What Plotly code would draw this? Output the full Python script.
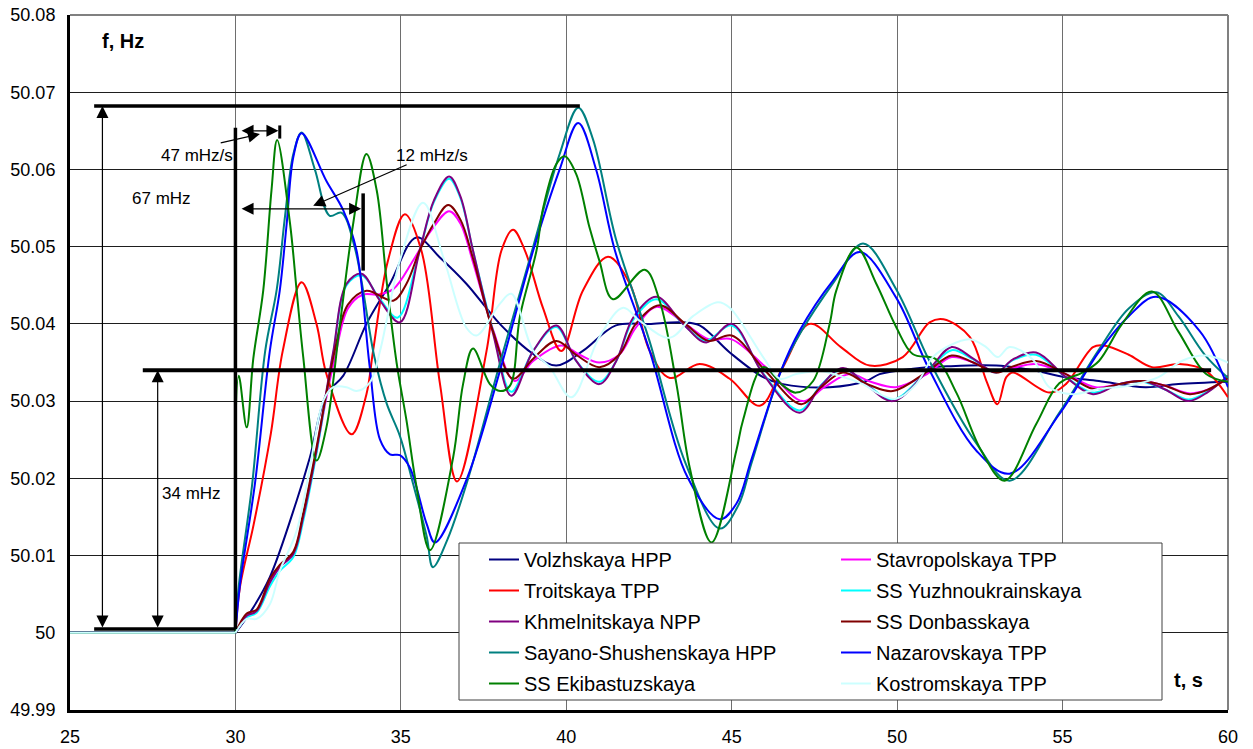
import plotly.graph_objects as go

FONT = "Liberation Sans, Arial, sans-serif"

# ---- frequency traces: (time, s ; frequency, Hz) ----
volzhskaya = [(25, 50.0), (30, 50.0), (30.5, 50.003), (31.04, 50.0072), (31.85, 50.0171), (32.25, 50.0227),
              (32.75, 50.0309), (33.26, 50.0333), (33.96, 50.0400), (34.67, 50.0452), (35.47, 50.0512),
              (36.18, 50.0486), (36.98, 50.0452), (37.99, 50.0400), (39.0, 50.0361), (39.7, 50.0346),
              (40.5, 50.0365), (41.5, 50.0398), (42.5, 50.0400), (43.5, 50.0402), (44.03, 50.0398),
              (44.94, 50.0363), (45.95, 50.0331), (46.55, 50.0322), (47.96, 50.0318), (49.07, 50.0326),
              (49.47, 50.0335), (50.48, 50.0342), (51.5, 50.0345), (53.0, 50.0346), (54.1, 50.0340),
              (55.1, 50.0331), (56.1, 50.0326), (57.5, 50.0318), (58.5, 50.0322), (60, 50.0325)]

stavropolskaya = [(25, 50.0), (30, 50.0), (30.34, 50.002), (30.64, 50.0028), (31.04, 50.0065), (31.34, 50.0085),
                  (31.75, 50.0103), (32.05, 50.015), (32.45, 50.0235), (32.75, 50.0305), (33.0, 50.0355),
                  (33.4, 50.042), (33.86, 50.0438), (34.3, 50.0438), (34.77, 50.0445), (35.37, 50.0482),
                  (35.9, 50.052), (36.46, 50.0546), (36.8, 50.053), (37.18, 50.048), (37.79, 50.0392),
                  (38.44, 50.0326), (39.0, 50.0352), (39.85, 50.0372), (40.4, 50.036), (41.0, 50.035),
                  (41.6, 50.036), (42.1, 50.0395), (42.72, 50.0422), (43.6, 50.040), (44.3, 50.038),
                  (45.0, 50.038), (46.0, 50.0345), (47.15, 50.030), (47.8, 50.0318), (48.56, 50.0335),
                  (49.2, 50.0325), (49.97, 50.0318), (50.9, 50.0335), (51.65, 50.0357), (52.3, 50.035),
                  (53.0, 50.0338), (53.5, 50.0343), (54.2, 50.0348), (55.1, 50.0335), (56.0, 50.0318),
                  (56.7, 50.0322), (57.4, 50.0326), (58.1, 50.032), (58.84, 50.031), (59.4, 50.0315), (60, 50.033)]

troitskaya = [(25, 50.0), (30, 50.0), (30.14, 50.006), (30.55, 50.014), (31.07, 50.0258), (31.43, 50.0365),
              (32.0, 50.0454), (32.45, 50.040), (32.75, 50.0335), (33.51, 50.0257), (33.96, 50.0309),
              (34.16, 50.0365), (34.6, 50.048), (35.12, 50.0542), (35.62, 50.0495), (36.18, 50.0323),
              (36.7, 50.0196), (37.59, 50.0365), (38.04, 50.0495), (38.39, 50.0522), (38.75, 50.0495),
              (39.3, 50.042), (39.85, 50.0365), (40.5, 50.0443), (41.26, 50.0487), (41.92, 50.0452),
              (42.52, 50.0365), (43.13, 50.033), (44.03, 50.0348), (44.94, 50.0329), (45.85, 50.0294),
              (46.55, 50.0344), (47.36, 50.040), (48.3, 50.037), (49.17, 50.0346), (50.17, 50.0357),
              (50.98, 50.0402), (51.4, 50.0406), (52.2, 50.0383), (52.7, 50.0326), (53.03, 50.0296),
              (53.3, 50.0331), (53.5, 50.0337), (54.6, 50.0311), (55.1, 50.0322), (55.92, 50.037),
              (56.25, 50.0372), (57.0, 50.036), (57.7, 50.0344), (58.53, 50.0348), (59.3, 50.034), (60, 50.0305)]

yuzhnoukrainskaya = [(25, 50.0), (30, 50.0), (30.34, 50.002), (30.64, 50.0026), (31.04, 50.006), (31.34, 50.008),
                     (31.75, 50.0098), (32.05, 50.0145), (32.45, 50.0232), (32.75, 50.031), (32.96, 50.0362),
                     (33.36, 50.045), (33.81, 50.0463), (34.37, 50.0432), (34.9, 50.0408), (35.57, 50.0495),
                     (36.0, 50.0558), (36.46, 50.0588), (36.8, 50.0563), (37.18, 50.0495), (37.79, 50.039),
                     (38.34, 50.0312), (39.0, 50.0365), (39.7, 50.0396), (40.3, 50.0352), (41.0, 50.0325),
                     (41.51, 50.0352), (42.02, 50.0405), (42.72, 50.0432), (43.53, 50.040), (44.2, 50.0378),
                     (45.0, 50.0398), (45.95, 50.0336), (47.05, 50.0288), (47.7, 50.0321), (48.36, 50.0342),
                     (49.1, 50.0321), (49.87, 50.0302), (50.98, 50.0342), (51.65, 50.0366), (52.3, 50.0354),
                     (52.99, 50.0337), (53.5, 50.0353), (54.2, 50.036), (55.1, 50.0331), (55.92, 50.0311),
                     (56.7, 50.0322), (57.4, 50.0325), (58.1, 50.0315), (58.8, 50.0302), (59.4, 50.0313), (60, 50.0332)]

khmelnitskaya = [(25, 50.0), (30, 50.0), (30.34, 50.0022), (30.64, 50.0028), (31.04, 50.0065), (31.34, 50.0085),
                 (31.75, 50.0102), (32.05, 50.015), (32.45, 50.0236), (32.75, 50.0313), (32.96, 50.0365),
                 (33.36, 50.0452), (33.81, 50.0465), (34.37, 50.043), (34.97, 50.0402), (35.57, 50.0495),
                 (36.0, 50.056), (36.46, 50.0591), (36.8, 50.0565), (37.18, 50.0495), (37.79, 50.0387),
                 (38.34, 50.0307), (39.0, 50.0365), (39.7, 50.0398), (40.3, 50.0352), (41.0, 50.0322),
                 (41.51, 50.0352), (42.02, 50.0408), (42.72, 50.0435), (43.53, 50.040), (44.23, 50.0376),
                 (45.0, 50.040), (45.95, 50.0335), (47.05, 50.0285), (47.7, 50.032), (48.36, 50.0343),
                 (49.1, 50.032), (49.87, 50.030), (50.98, 50.0342), (51.65, 50.037), (52.3, 50.0355),
                 (52.99, 50.0337), (53.5, 50.0354), (54.2, 50.0363), (55.1, 50.0331), (55.92, 50.0309),
                 (56.7, 50.0322), (57.4, 50.0326), (58.1, 50.0315), (58.8, 50.030), (59.4, 50.0312), (60, 50.0333)]

donbasskaya = [(25, 50.0), (30, 50.0), (30.34, 50.0025), (30.64, 50.003), (31.04, 50.007), (31.34, 50.0088),
               (31.75, 50.0105), (32.05, 50.0155), (32.45, 50.024), (32.75, 50.031), (33.0, 50.0365),
               (33.4, 50.0425), (33.96, 50.0443), (34.77, 50.043), (35.17, 50.0452), (35.57, 50.0495),
               (36.0, 50.053), (36.43, 50.0554), (36.8, 50.0535), (37.18, 50.0485), (37.79, 50.039),
               (38.39, 50.0329), (39.0, 50.0355), (39.7, 50.0378), (40.3, 50.036), (41.0, 50.0344),
               (41.6, 50.036), (42.1, 50.040), (42.82, 50.0424), (43.6, 50.040), (44.3, 50.0378),
               (45.0, 50.0385), (46.0, 50.034), (47.1, 50.0296), (47.7, 50.0318), (48.36, 50.0337),
               (49.1, 50.0322), (49.87, 50.0313), (50.9, 50.0338), (51.65, 50.0359), (52.3, 50.035),
               (53.0, 50.0337), (53.5, 50.0345), (54.2, 50.0352), (55.1, 50.0335), (55.92, 50.0316),
               (56.7, 50.0322), (57.4, 50.0326), (58.1, 50.032), (58.84, 50.0309), (59.4, 50.0315), (60, 50.033)]

sayano_shushenskaya = [(25, 50.0), (30, 50.0), (30.1, 50.006), (30.5, 50.019), (30.9, 50.0365), (31.25, 50.0445),
                       (31.5, 50.054), (31.75, 50.062), (32.0, 50.0648), (32.4, 50.060), (32.85, 50.054),
                       (33.2, 50.0544), (33.6, 50.050), (34.2, 50.0357), (34.57, 50.0297), (34.97, 50.0255),
                       (35.37, 50.0193), (35.78, 50.0125), (35.97, 50.0085), (36.4, 50.012), (37.0, 50.0195),
                       (38.0, 50.035), (39.0, 50.050), (39.8, 50.062), (40.36, 50.068), (40.8, 50.064),
                       (41.5, 50.051), (42.5, 50.038), (43.6, 50.022), (44.64, 50.0135), (45.2, 50.0165),
                       (45.6, 50.022), (46.5, 50.034), (47.1, 50.039), (48.1, 50.0455), (48.97, 50.0504),
                       (49.97, 50.0445), (51.0, 50.035), (52.4, 50.0245), (53.4, 50.0197), (54.9, 50.0285),
                       (56.12, 50.0368), (57.0, 50.042), (57.83, 50.0441), (58.5, 50.041), (59.3, 50.036), (60, 50.033)]

nazarovskaya = [(25, 50.0), (30, 50.0), (30.14, 50.0063), (30.59, 50.0193), (31.04, 50.0365), (31.34, 50.0443),
                (31.55, 50.053), (31.75, 50.0616), (32.0, 50.0647), (32.75, 50.0585), (33.26, 50.0547),
                (33.66, 50.0495), (34.06, 50.0344), (34.37, 50.025), (34.67, 50.0231), (34.97, 50.023),
                (35.27, 50.0214), (35.78, 50.0141), (36.03, 50.0117), (37.0, 50.020), (38.0, 50.034),
                (39.0, 50.0495), (39.8, 50.060), (40.36, 50.066), (40.9, 50.060), (41.47, 50.0495),
                (42.52, 50.0365), (43.68, 50.020), (44.64, 50.0147), (45.14, 50.0167), (45.6, 50.0225),
                (46.45, 50.0335), (47.05, 50.0391), (48.06, 50.0456), (48.87, 50.0493), (49.97, 50.0434),
                (50.98, 50.034), (52.39, 50.0236), (53.4, 50.0206), (54.9, 50.0283), (56.12, 50.0365),
                (57.0, 50.041), (57.83, 50.0435), (59.14, 50.0391), (60, 50.0318)]

ekibastuzskaya = [(25, 50.0), (30, 50.0), (30.1, 50.0333), (30.34, 50.0266), (30.54, 50.0355), (30.84, 50.0443),
                  (31.09, 50.0573), (31.26, 50.0638), (31.65, 50.053), (31.85, 50.0443), (32.05, 50.0357),
                  (32.45, 50.0223), (32.75, 50.0266), (33.16, 50.040), (33.56, 50.053), (33.96, 50.062),
                  (34.27, 50.0573), (34.57, 50.0455), (34.87, 50.035), (35.17, 50.0275), (35.47, 50.019),
                  (35.88, 50.0107), (36.58, 50.0227), (36.88, 50.0322), (37.18, 50.0368), (37.69, 50.0322),
                  (38.0, 50.0313), (38.3, 50.032), (38.6, 50.041), (39.1, 50.0495), (39.3, 50.055),
                  (39.7, 50.0607), (39.95, 50.0617), (40.3, 50.0594), (40.7, 50.0525), (41.0, 50.0482),
                  (41.41, 50.0432), (42.37, 50.047), (42.82, 50.043), (43.33, 50.0322), (43.73, 50.0214),
                  (44.39, 50.0117), (45.14, 50.0236), (45.34, 50.0275), (45.95, 50.0344), (46.55, 50.032),
                  (46.95, 50.0311), (47.46, 50.0326), (47.96, 50.040), (48.16, 50.0443), (48.77, 50.0499),
                  (49.37, 50.0452), (49.97, 50.0396), (50.47, 50.0361), (51.18, 50.0354), (51.8, 50.031),
                  (52.54, 50.0236), (53.25, 50.0197), (54.2, 50.027), (54.9, 50.0323), (55.6, 50.0337),
                  (56.1, 50.0352), (56.8, 50.040), (57.7, 50.0442), (58.5, 50.039), (59.34, 50.0335), (60, 50.0325)]

kostromskaya = [(25, 50.0), (30, 50.0), (30.34, 50.0018), (30.64, 50.0018), (31.04, 50.0037), (31.34, 50.008),
                (31.85, 50.0132), (32.25, 50.0214), (32.66, 50.0301), (32.96, 50.0318), (33.36, 50.0318),
                (33.66, 50.0313), (34.06, 50.0324), (34.37, 50.0365), (34.57, 50.0404), (34.97, 50.0482),
                (35.67, 50.0557), (36.3, 50.0484), (36.98, 50.0395), (37.29, 50.0385), (37.99, 50.0426),
                (38.34, 50.0439), (39.0, 50.0365), (39.5, 50.0344), (40.15, 50.0305), (41.0, 50.0383),
                (41.72, 50.0421), (42.22, 50.0404), (43.13, 50.0382), (43.83, 50.041), (44.58, 50.0428),
                (44.94, 50.0421), (45.95, 50.0357), (46.45, 50.0329), (46.95, 50.0335), (47.66, 50.0339),
                (48.3, 50.0332), (48.97, 50.0322), (49.47, 50.0309), (49.97, 50.0303), (50.58, 50.0322),
                (51.08, 50.0357), (51.59, 50.0372), (52.19, 50.038), (52.69, 50.037), (53.04, 50.0357),
                (53.4, 50.037), (54.1, 50.0354), (54.6, 50.0318), (55.31, 50.0309), (56.12, 50.0316),
                (57.0, 50.032), (57.9, 50.0331), (58.6, 50.0352), (59.34, 50.0359), (60, 50.035)]

# ---- axis ticks ----
x_ticks = [25, 30, 35, 40, 45, 50, 55, 60]
x_tick_text = ["25", "30", "35", "40", "45", "50", "55", "60"]
y_ticks = [49.99, 50.00, 50.01, 50.02, 50.03, 50.04, 50.05, 50.06, 50.07, 50.08]
y_tick_text = ["49.99", "50", "50.01", "50.02", "50.03", "50.04", "50.05", "50.06", "50.07", "50.08"]

# ---- characteristic levels of the disturbance ----
t_event = 30.0
f_base = 50.0005
f_max = 50.0682
f_settled = 50.034

series = [
    ("Volzhskaya HPP", volzhskaya, "#000080", "legend"),
    ("Stavropolskaya TPP", stavropolskaya, "#FF00FF", "legend2"),
    ("Troitskaya TPP", troitskaya, "#FF0000", "legend"),
    ("SS Yuzhnoukrainskaya", yuzhnoukrainskaya, "#00FFFF", "legend2"),
    ("Khmelnitskaya NPP", khmelnitskaya, "#800080", "legend"),
    ("SS Donbasskaya", donbasskaya, "#800000", "legend2"),
    ("Sayano-Shushenskaya HPP", sayano_shushenskaya, "#008080", "legend"),
    ("Nazarovskaya TPP", nazarovskaya, "#0000FF", "legend2"),
    ("SS Ekibastuzskaya", ekibastuzskaya, "#008000", "legend"),
    ("Kostromskaya TPP", kostromskaya, "#CCFFFF", "legend2"),
]

fig = go.Figure()
for name, pts, color, leg in series:
    pre = [p for p in pts if p[0] <= t_event]
    post = [p for p in pts if p[0] >= t_event]
    # steady state before the disturbance: straight segment
    fig.add_trace(go.Scatter(
        x=[p[0] for p in pre], y=[p[1] for p in pre], name=name, mode="lines",
        line=dict(color=color, width=2), legend=leg, legendgroup=name,
        showlegend=False, hoverinfo="skip",
    ))
    # transient after the disturbance: smoothed curve
    fig.add_trace(go.Scatter(
        x=[p[0] for p in post], y=[p[1] for p in post], name=name, mode="lines",
        line=dict(color=color, width=2, shape="spline", smoothing=1.0),
        legend=leg, legendgroup=name, hoverinfo="skip",
    ))

BLACK = "#000000"
shapes = []
# top / right frame in grey
shapes.append(dict(type="line", xref="paper", yref="paper", x0=0, x1=1, y0=1, y1=1,
                   line=dict(color="#808080", width=2), layer="below"))
shapes.append(dict(type="line", xref="paper", yref="paper", x0=1, x1=1, y0=0, y1=1,
                   line=dict(color="#808080", width=2), layer="below"))


def seg(x0, y0, x1, y1, w):
    shapes.append(dict(type="line", xref="x", yref="y", x0=x0, y0=y0, x1=x1, y1=y1,
                       line=dict(color=BLACK, width=w), layer="above"))


seg(25.73, f_max, 40.41, f_max, 3.5)            # maximum frequency level
seg(27.2, f_settled, 59.49, f_settled, 4)       # quasi-steady level
seg(25.73, f_base, t_event, f_base, 3.5)        # initial level
seg(t_event, f_base, t_event, 50.0654, 3.5)     # disturbance moment
seg(33.86, 50.0469, 33.86, 50.0569, 3.5)        # end of 12 mHz/s interval
seg(31.34, 50.0640, 31.34, 50.0657, 3)          # end of 47 mHz/s interval

# legend frame
shapes.append(dict(type="rect", xref="paper", yref="paper",
                   x0=(459 - 70) / 1158, x1=(1162 - 70) / 1158,
                   y0=(710 - 700) / 695, y1=(710 - 543) / 695,
                   line=dict(color="#404040", width=1), fillcolor="white", layer="above"))

annotations = []


def arrow(x, y, ax, ay, both=True):
    annotations.append(dict(x=x, y=y, ax=ax, ay=ay, xref="x", yref="y", axref="x", ayref="y",
                            text="", showarrow=True, arrowhead=2, arrowsize=2.0, arrowwidth=1.2,
                            arrowcolor=BLACK, arrowside="end+start" if both else "end",
                            startarrowhead=2, startarrowsize=2.0, standoff=0, startstandoff=0))


arrow(25.98, f_max, 25.98, f_base)          # 67 mHz span
arrow(27.65, f_settled, 27.65, f_base)      # 34 mHz span
arrow(31.30, 50.0650, 30.14, 50.0650)       # 47 mHz/s interval
arrow(33.80, 50.0549, 30.14, 50.0549)       # 12 mHz/s interval
arrow(30.74, 50.0646, 29.51, 50.0634, both=False)
arrow(32.35, 50.0553, 35.22, 50.0607, both=False)


def label(x, y, text, size=17, bold=False, ref="data"):
    annotations.append(dict(
        x=x, y=y, xref="x" if ref == "data" else "paper", yref="y" if ref == "data" else "paper",
        text=f"<b>{text}</b>" if bold else text, showarrow=False,
        font=dict(family=FONT, size=size, color=BLACK), xanchor="center", yanchor="middle"))


label(28.85, 50.0618, "47 mHz/s")
label(35.95, 50.0618, "12 mHz/s")
label(27.78, 50.0563, "67 mHz")
label(28.67, 50.0180, "34 mHz")
label((122.5 - 70) / 1158, (710 - 41) / 695, "f, Hz", size=20, bold=True, ref="paper")
label((1188 - 70) / 1158, (710 - 680) / 695, "t, s", size=20, bold=True, ref="paper")

axis_common = dict(showgrid=True, gridwidth=1, zeroline=False, automargin=False,
                   showline=True, linecolor=BLACK, linewidth=3, ticks="", ticklabelstandoff=8,
                   tickfont=dict(family=FONT, size=18, color=BLACK))

legend_common = dict(bgcolor="rgba(0,0,0,0)", borderwidth=0, orientation="v",
                     xanchor="left", yanchor="top", traceorder="grouped", tracegroupgap=2,
                     itemwidth=30, font=dict(family=FONT, size=20, color=BLACK))

fig.update_layout(
    width=1253, height=749,
    margin=dict(l=70, r=25, t=15, b=39, autoexpand=False),
    paper_bgcolor="white", plot_bgcolor="white",
    font=dict(family=FONT, color=BLACK),
    xaxis=dict(range=[25, 60], tickvals=x_ticks, ticktext=x_tick_text, gridcolor="#6e6e6e", **axis_common),
    yaxis=dict(range=[49.99, 50.08], tickvals=y_ticks, ticktext=y_tick_text, gridcolor="#1e1e1e", **axis_common),
    legend=dict(x=(484 - 70) / 1158, y=(710 - 540) / 695, **legend_common),
    legend2=dict(x=(836 - 70) / 1158, y=(710 - 540) / 695, **legend_common),
    shapes=shapes,
    annotations=annotations,
    showlegend=True,
)

fig.write_html("out.html")
